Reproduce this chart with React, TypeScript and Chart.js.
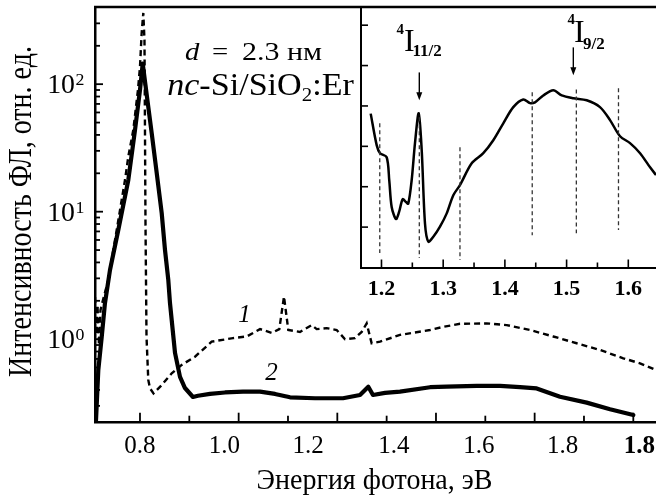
import React, { useEffect, useRef } from 'react';
import { Chart, registerables } from 'chart.js';

Chart.register(...registerables);

// ---------- main plot data (photon energy, eV ; PL intensity, arb. units) ----------
const curve1X = [0.7088, 0.7118, 0.7138, 0.7169, 0.7199, 0.7250, 0.7357, 0.7528, 0.7696, 0.7763, 0.7864, 0.7959, 0.8000, 0.8034, 0.8067, 0.8091, 0.8101, 0.8111, 0.8132, 0.8168, 0.8203, 0.8274, 0.8440, 0.8643, 0.8845, 0.9115, 0.9453, 0.9885, 1.0163, 1.0433, 1.0670, 1.0824, 1.0919, 1.1006, 1.1243, 1.1481, 1.1582, 1.1785, 1.1987, 1.2156, 1.2358, 1.2494, 1.2595, 1.2696, 1.2865, 1.3270, 1.3879, 1.4148, 1.4487, 1.5028, 1.5434, 1.5906, 1.6378, 1.6852, 1.7325, 1.7797, 1.8136, 1.8460];
const curve1Y = [2.14, 1.08, 1.85, 0.90, 1.69, 2.03, 2.91, 7.18, 17.7, 27.0, 43.7, 90.2, 137, 252, 362, 222, 43.7, 8.61, 1.05, 0.479, 0.412, 0.376, 0.437, 0.540, 0.628, 0.729, 0.956, 1.02, 1.05, 1.20, 1.12, 1.20, 2.16, 1.18, 1.14, 1.29, 1.20, 1.22, 1.18, 1.00, 1.02, 1.14, 1.33, 0.929, 0.956, 1.08, 1.18, 1.25, 1.32, 1.33, 1.29, 1.18, 1.05, 0.929, 0.823, 0.708, 0.647, 0.573];

const curve2X = [0.7108, 0.7155, 0.7224, 0.7290, 0.7392, 0.7560, 0.7763, 0.7899, 0.8000, 0.8055, 0.8111, 0.8142, 0.8237, 0.8339, 0.8440, 0.8507, 0.8574, 0.8608, 0.8710, 0.8811, 0.8912, 0.9074, 0.9176, 0.9419, 0.9723, 1.0088, 1.0433, 1.0737, 1.1041, 1.1548, 1.2115, 1.2460, 1.2628, 1.2723, 1.2967, 1.3270, 1.3879, 1.4217, 1.4825, 1.5298, 1.5703, 1.6042, 1.6514, 1.7055, 1.7528, 1.8000];
const curve2Y = [0.23, 0.573, 1.04, 1.92, 3.49, 7.18, 17.7, 43.7, 90.2, 145, 98.6, 79.4, 41.4, 20.1, 9.77, 5.01, 2.91, 1.92, 0.780, 0.506, 0.414, 0.352, 0.360, 0.372, 0.382, 0.388, 0.388, 0.372, 0.350, 0.344, 0.344, 0.365, 0.424, 0.365, 0.379, 0.388, 0.420, 0.424, 0.430, 0.430, 0.420, 0.411, 0.354, 0.318, 0.282, 0.254];

const xMin = 0.7088;
const xMax = 1.846;
const yMin = 0.2213;
const yMax = 403;
const xTickValues = [0.8, 0.9, 1.0, 1.1, 1.2, 1.3, 1.4, 1.5, 1.6, 1.7, 1.8];
const xTickLabels = ['0.8', '1.0', '1.2', '1.4', '1.6', '1.8'];
const xTickLabelAt = [0.8, 0.9713, 1.1406, 1.3149, 1.4872, 1.6565];
const extraBoldLabel = '1.8';
const extraBoldAt = 1.8125;
const yDecades = [0, 1, 2];
const curveLabels = ['1', '2'];

// ---------- inset data ----------
const insetX = [1.1825, 1.1922, 1.1976, 1.2084, 1.2126, 1.2165, 1.2235, 1.2284, 1.2344, 1.2397, 1.2434, 1.2489, 1.2543, 1.2603, 1.2652, 1.2705, 1.2759, 1.2840, 1.2948, 1.3057, 1.3164, 1.3272, 1.3462, 1.3650, 1.3812, 1.3974, 1.4136, 1.4298, 1.4407, 1.4488, 1.4622, 1.4785, 1.4921, 1.5109, 1.5326, 1.5541, 1.5704, 1.5866, 1.6028, 1.6191, 1.6353, 1.6450];
const insetY = [3.81, 3.03, 2.83, 2.73, 2.16, 1.50, 1.20, 1.37, 1.69, 1.62, 1.58, 2.16, 3.08, 3.82, 2.90, 1.09, 0.64, 0.76, 1.01, 1.34, 1.79, 2.04, 2.58, 2.83, 3.15, 3.57, 3.97, 4.16, 4.07, 4.09, 4.26, 4.39, 4.26, 4.19, 4.14, 3.97, 3.65, 3.25, 3.08, 2.83, 2.48, 2.29];
const erLinesX = [1.1972, 1.2613, 1.3272, 1.4443, 1.5158, 1.5841];
const erLinesTop = [3.57, 3.72, 2.98, 4.34, 4.41, 4.44];
const erLinesBottom = [0.36, 0.235, 0.185, 0.80, 0.85, 0.93];
const insetXMin = 1.1668;
const insetXMax = 1.6449;
const insetYMin = 0;
const insetYMax = 6.45;
const insetXTicks = [1.2, 1.25, 1.3, 1.35, 1.4, 1.45, 1.5, 1.55, 1.6];
const insetXLabels = ['1.2', '1.3', '1.4', '1.5', '1.6'];
const insetXLabelAt = [1.2, 1.3, 1.4, 1.5, 1.6];
const insetYTicks = [1, 2, 3, 4, 5, 6];
const arrowX = [1.2613, 1.5109];
const arrowFrom = [4.83, 5.45];
const arrowTo = [4.14, 4.76];

const SERIF = '"Liberation Serif", "Times New Roman", serif';
const W = 656;
const H = 495;

type Part = { t: string; font: string; dy?: number };

function runs(ctx: CanvasRenderingContext2D, parts: Part[], x: number, y: number, sx = 1, align: 'left' | 'center' | 'right' = 'left', sy = 1) {
  ctx.save();
  let total = 0;
  for (const p of parts) {
    ctx.font = p.font;
    total += ctx.measureText(p.t).width;
  }
  ctx.translate(x, y);
  ctx.scale(sx, sy);
  let cx = align === 'center' ? -total / 2 : align === 'right' ? -total : 0;
  ctx.fillStyle = '#000';
  ctx.textBaseline = 'alphabetic';
  ctx.textAlign = 'left';
  for (const p of parts) {
    ctx.font = p.font;
    ctx.fillText(p.t, cx, (p.dy ?? 0) / sy);
    cx += ctx.measureText(p.t).width;
  }
  ctx.restore();
}

const mainPlugin = {
  id: 'mainDecor',
  afterDraw(chart: any) {
    const ctx: CanvasRenderingContext2D = chart.ctx;
    const xs = chart.scales.x;
    const ys = chart.scales.y;
    const a = chart.chartArea;
    ctx.save();
    ctx.strokeStyle = '#000';
    // top frame line
    ctx.lineWidth = 2.5;
    ctx.beginPath();
    ctx.moveTo(a.left - 1, a.top);
    ctx.lineTo(a.right, a.top);
    ctx.stroke();
    // x ticks (inward)
    ctx.lineWidth = 1.8;
    xTickValues.forEach((v, i) => {
      const px = xs.getPixelForValue(v);
      const len = i % 2 === 0 ? 10 : 7;
      ctx.beginPath();
      ctx.moveTo(px, a.bottom);
      ctx.lineTo(px, a.bottom - len);
      ctx.stroke();
    });
    // y ticks (log, inward)
    for (let k = -1; k <= 2; k++) {
      for (let m = 1; m <= 9; m++) {
        const v = m * Math.pow(10, k);
        if (v < yMin || v > yMax * 0.99) continue;
        const py = ys.getPixelForValue(v);
        const len = m === 1 ? 8 : 5;
        ctx.beginPath();
        ctx.moveTo(a.left, py);
        ctx.lineTo(a.left + len, py);
        ctx.stroke();
      }
    }
    ctx.restore();

    // y tick labels 10^n
    yDecades.forEach((d) => {
      const py = ys.getPixelForValue(Math.pow(10, d));
      runs(ctx, [{ t: '10', font: `27px ${SERIF}` }], 75, py + 9, 1.03, 'right');
      runs(ctx, [{ t: String(d), font: `17px ${SERIF}` }], 75.5, py + 1, 1.05, 'left');
    });
    // x tick labels
    xTickLabels.forEach((t, i) => {
      const px = xs.getPixelForValue(xTickLabelAt[i]);
      runs(ctx, [{ t, font: `25px ${SERIF}` }], px, 453, 1, 'center');
    });
    runs(ctx, [{ t: extraBoldLabel, font: `bold 25px ${SERIF}` }], xs.getPixelForValue(extraBoldAt), 453, 1, 'center');

    // axis titles
    ctx.save();
    ctx.translate(31, 211.5);
    ctx.rotate(-Math.PI / 2);
    ctx.scale(1, 1.2);
    ctx.font = `28px ${SERIF}`;
    ctx.fillStyle = '#000';
    ctx.textAlign = 'center';
    ctx.textBaseline = 'alphabetic';
    ctx.fillText('Интенсивность ФЛ, отн. ед.', 0, 0);
    ctx.restore();
    runs(ctx, [{ t: 'Энергия фотона, эВ', font: `28px ${SERIF}` }], 374.5, 489, 1, 'center', 1.06);

    // annotation
    runs(ctx, [{ t: 'd', font: `italic 25px ${SERIF}` }], 185, 60, 1.15);
    runs(ctx, [{ t: '=', font: `25px ${SERIF}` }], 212, 60, 1.15);
    runs(ctx, [{ t: '2.3 нм', font: `25px ${SERIF}` }], 242, 60, 1.2);
    runs(ctx, [
      { t: 'nc', font: `italic 31px ${SERIF}` },
      { t: '-Si/SiO', font: `31px ${SERIF}` },
      { t: '2', font: `19px ${SERIF}`, dy: 6 },
      { t: ':Er', font: `31px ${SERIF}` },
    ], 260.5, 95, 1.1, 'center');

    // curve labels
    runs(ctx, [{ t: curveLabels[0], font: `italic 25px ${SERIF}` }], 244.5, 321.5, 1, 'center');
    runs(ctx, [{ t: curveLabels[1], font: `italic 25px ${SERIF}` }], 271.5, 380, 1, 'center');
  },
};

const insetPlugin = {
  id: 'insetDecor',
  afterDraw(chart: any) {
    const ctx: CanvasRenderingContext2D = chart.ctx;
    const xs = chart.scales.x;
    const ys = chart.scales.y;
    const a = chart.chartArea;
    ctx.save();
    ctx.strokeStyle = '#000';
    ctx.fillStyle = '#000';
    ctx.lineWidth = 1.6;
    insetXTicks.forEach((v, i) => {
      const px = xs.getPixelForValue(v);
      const len = i % 2 === 0 ? 8 : 5;
      ctx.beginPath();
      ctx.moveTo(px, a.bottom);
      ctx.lineTo(px, a.bottom - len);
      ctx.stroke();
    });
    insetYTicks.forEach((v) => {
      const py = ys.getPixelForValue(v);
      ctx.beginPath();
      ctx.moveTo(a.left, py);
      ctx.lineTo(a.left + 7, py);
      ctx.stroke();
    });
    // arrows
    ctx.lineWidth = 1.4;
    arrowX.forEach((v, i) => {
      const px = xs.getPixelForValue(v);
      const y0 = ys.getPixelForValue(arrowFrom[i]);
      const y1 = ys.getPixelForValue(arrowTo[i]);
      ctx.beginPath();
      ctx.moveTo(px, y0);
      ctx.lineTo(px, y1 - 5);
      ctx.stroke();
      ctx.beginPath();
      ctx.moveTo(px, y1);
      ctx.lineTo(px - 3, y1 - 8);
      ctx.lineTo(px + 3, y1 - 8);
      ctx.closePath();
      ctx.fill();
    });
    ctx.restore();

    insetXLabels.forEach((t, i) => {
      runs(ctx, [{ t, font: `bold 22px ${SERIF}` }], xs.getPixelForValue(insetXLabelAt[i]), 295, 1, 'center');
    });

    // level labels
    runs(ctx, [{ t: '4', font: `bold 15px ${SERIF}` }], 396.5, 33.5);
    runs(ctx, [{ t: 'I', font: `32px ${SERIF}` }], 404, 50.7);
    runs(ctx, [{ t: '11/2', font: `bold 17px ${SERIF}` }], 412.5, 56);
    runs(ctx, [{ t: '4', font: `bold 15px ${SERIF}` }], 567.5, 24);
    runs(ctx, [{ t: 'I', font: `32px ${SERIF}` }], 574, 41.7);
    runs(ctx, [{ t: '9/2', font: `bold 17px ${SERIF}` }], 583, 49.3);
  },
};

export default function App() {
  const mainRef = useRef<HTMLCanvasElement>(null);
  const insetRef = useRef<HTMLCanvasElement>(null);

  useEffect(() => {
    if (!mainRef.current || !insetRef.current) return;
    const axisCommon = {
      display: true,
      grid: { display: false, drawTicks: false },
      ticks: { display: false },
      border: { display: true, color: '#000', width: 2.5 },
    };
    const main = new Chart(mainRef.current, {
      type: 'line',
      data: {
        datasets: [
          {
            data: curve2X.map((x, i) => ({ x, y: curve2Y[i] })),
            borderColor: '#000',
            borderWidth: 4.2,
            pointRadius: 0,
            tension: 0,
            borderJoinStyle: 'round',
            borderCapStyle: 'round',
          },
          {
            data: curve1X.map((x, i) => ({ x, y: curve1Y[i] })),
            borderColor: '#000',
            borderWidth: 2.4,
            borderDash: [6, 4],
            pointRadius: 0,
            tension: 0,
          },
        ],
      },
      options: {
        animation: false,
        responsive: false,
        events: [],
        layout: { padding: { left: 95, top: 7, right: 0, bottom: H - 422.7 } },
        plugins: { legend: { display: false }, tooltip: { enabled: false } },
        scales: {
          x: { ...axisCommon, type: 'linear', min: xMin, max: xMax },
          y: { ...axisCommon, type: 'logarithmic', min: yMin, max: yMax },
        },
      },
      plugins: [mainPlugin],
    } as any);

    const erSets = erLinesX.map((x, i) => ({
      data: [{ x, y: erLinesTop[i] }, { x, y: erLinesBottom[i] }],
      borderColor: '#333',
      borderWidth: 1.3,
      borderDash: [4, 3],
      pointRadius: 0,
      tension: 0,
    }));
    const inset = new Chart(insetRef.current, {
      type: 'line',
      data: {
        datasets: [
          ...erSets,
          {
            data: insetX.map((x, i) => ({ x, y: insetY[i] })),
            borderColor: '#000',
            borderWidth: 2.5,
            pointRadius: 0,
            tension: 0.3,
            borderJoinStyle: 'round',
          },
        ],
      },
      options: {
        animation: false,
        responsive: false,
        events: [],
        layout: { padding: { left: 361, top: 7, right: 0, bottom: H - 267.5 } },
        plugins: { legend: { display: false }, tooltip: { enabled: false } },
        scales: {
          x: { ...axisCommon, border: { display: true, color: '#000', width: 2 }, type: 'linear', min: insetXMin, max: insetXMax },
          y: { ...axisCommon, border: { display: true, color: '#000', width: 2 }, type: 'linear', min: insetYMin, max: insetYMax },
        },
      },
      plugins: [insetPlugin],
    } as any);

    return () => {
      main.destroy();
      inset.destroy();
    };
  }, []);

  return (
    <div style={{ position: 'fixed', left: 0, top: 0, width: W, height: H, background: '#fff' }}>
      <canvas ref={mainRef} width={W} height={H} style={{ position: 'absolute', left: 0, top: 0, width: W, height: H }} />
      <canvas ref={insetRef} width={W} height={H} style={{ position: 'absolute', left: 0, top: 0, width: W, height: H }} />
    </div>
  );
}
